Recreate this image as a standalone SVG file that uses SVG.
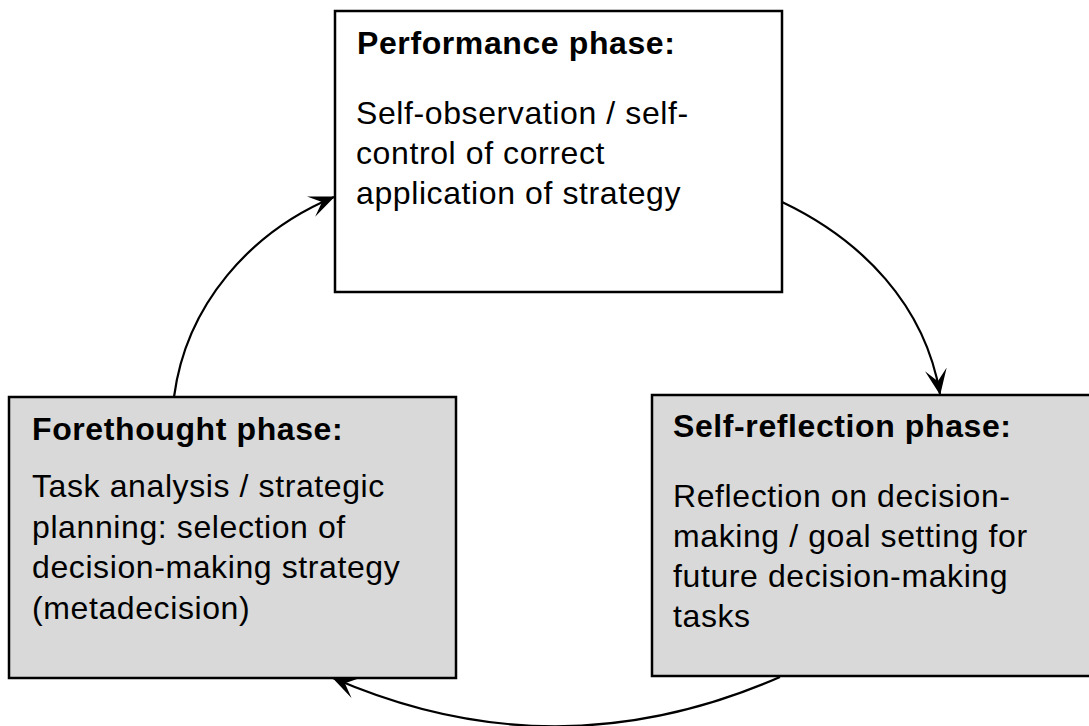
<svg xmlns="http://www.w3.org/2000/svg" width="1089" height="726" viewBox="0 0 1089 726">
<defs>
<marker id="ah" viewBox="0 0 26 22" refX="25" refY="11" markerWidth="26" markerHeight="22" markerUnits="userSpaceOnUse" orient="auto">
<path d="M0,0 L26,11 L0,22 L12,11 Z" fill="#000"/>
</marker>
<style>
.box{stroke:#000;stroke-width:2.5}
.white{fill:#fff}
.gray{fill:#d9d9d9}
.t{font-family:"Liberation Sans",Arial,sans-serif;font-size:32px;font-weight:bold;letter-spacing:0.6px;fill:#000}
.b{font-family:"Liberation Sans",Arial,sans-serif;font-size:32px;letter-spacing:0.6px;fill:#000}
.c{fill:none;stroke:#000;stroke-width:2.2;marker-end:url(#ah)}
</style>
</defs>
<rect width="1089" height="726" fill="#fff"/>
<g id="connectors">
<path class="c" d="M174,397 C186,305 250,232 334,197"/>
<path class="c" d="M782,202 C862,240 925,305 940,394"/>
<path class="c" d="M780,677 Q556,775 333,678"/>
</g>
<g id="performance">
<rect class="box white" x="335" y="11" width="447" height="281"/>
<text class="t" x="357" y="54">Performance phase:</text>
<text class="b" x="356" y="124">Self-observation / self-</text>
<text class="b" x="356" y="164">control of correct</text>
<text class="b" x="356" y="204">application of strategy</text>
</g>
<g id="forethought">
<rect class="box gray" x="9" y="397" width="447" height="281"/>
<text class="t" x="32" y="440">Forethought phase:</text>
<text class="b" x="32" y="497">Task analysis / strategic</text>
<text class="b" x="32" y="538">planning: selection of</text>
<text class="b" x="32" y="578">decision-making strategy</text>
<text class="b" x="32" y="619">(metadecision)</text>
</g>
<g id="selfreflection">
<rect class="box gray" x="652" y="395" width="445" height="281"/>
<text class="t" x="673" y="437">Self-reflection phase:</text>
<text class="b" x="673" y="507">Reflection on decision-</text>
<text class="b" x="673" y="547">making / goal setting for</text>
<text class="b" x="673" y="587">future decision-making</text>
<text class="b" x="673" y="627">tasks</text>
</g>
</svg>
